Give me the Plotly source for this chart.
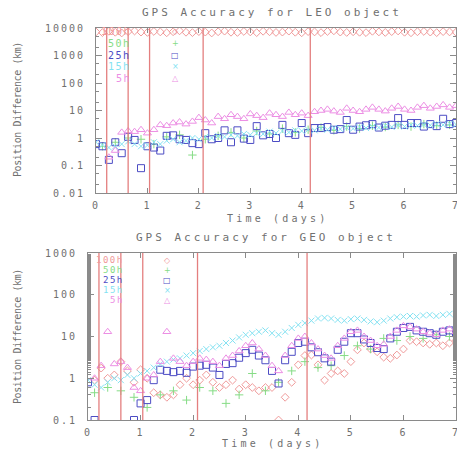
import plotly.graph_objects as go

# ---------------- data ----------------
days = [0.0, 0.125, 0.25, 0.375, 0.5, 0.625, 0.75, 0.875,
        1.0, 1.125, 1.25, 1.375, 1.5, 1.625, 1.75, 1.875,
        2.0, 2.125, 2.25, 2.375, 2.5, 2.625, 2.75, 2.875,
        3.0, 3.125, 3.25, 3.375, 3.5, 3.625, 3.75, 3.875,
        4.0, 4.125, 4.25, 4.375, 4.5, 4.625, 4.75, 4.875,
        5.0, 5.125, 5.25, 5.375, 5.5, 5.625, 5.75, 5.875,
        6.0, 6.125, 6.25, 6.375, 6.5, 6.625, 6.75, 6.875, 7.0]

series_names = ["100h", "50h", "25h", "15h", "5h"]
window_hours = [5, 15, 25, 50, 100]

# LEO object (km)
leo_100h = [7200, 6800, 7600, 7000, 6600, 7400, 7800, 7100, 6900, 7500, 7200, 6700,
            7300, 7900, 7000, 6800, 7400, 7100, 6600, 7300, 7700, 7000, 6900, 7500,
            7200, 6800, 7600, 7300, 6900, 7100, 7700, 7000, 6700, 7400, 7200, 6800,
            7500, 7900, 7100, 6900, 7300, 7000, 6800, 7600, 7200, 6900, 7400, 7800,
            7000, 6700, 7300, 7500, 7100, 6800, 7400, 7200, 7000]
leo_50h = [None, 0.5, None, 0.7, None, 1.0, None, 0.9, None, 0.6, None, 1.1,
           None, 1.3, None, 0.24, None, 0.9, None, 1.2, None, 1.6, None, 1.0,
           None, 1.8, None, 1.4, None, 2.2, None, 1.6, None, 2.0, None, 2.4,
           None, 1.9, None, 2.6, None, 2.2, None, 2.8, None, 2.5, None, 3.0,
           None, 2.6, None, 3.2, None, 2.8, None, 3.0, None]
leo_25h = [0.6, 0.5, 0.16, 0.7, 0.28, 1.1, 0.85, 0.08, 0.5, 0.45, 0.35, 1.2,
           1.25, 0.9, 0.85, 0.65, 0.6, 1.5, 0.9, 1.0, 1.9, 0.7, 1.9, 0.95,
           0.85, 2.7, 1.25, 1.4, 1.0, 3.0, 1.5, 1.3, 3.5, 1.5, 2.3, 2.3,
           2.5, 2.0, 2.1, 4.5, 2.0, 2.6, 2.9, 3.2, 2.4, 2.8, 3.0, 5.3,
           3.0, 3.5, 3.5, 2.6, 3.2, 2.7, 5.0, 3.2, 3.5]
leo_15h = [0.7, 0.55, 0.45, 0.5, 0.6, 0.75, 0.6, 0.5, 0.55, 0.7, 0.6, 0.8,
           0.9, 0.7, 0.8, 1.0, 0.9, 1.1, 1.0, 1.2, 1.1, 1.3, 1.2, 1.4,
           1.3, 1.5, 1.4, 1.7, 1.5, 1.8, 1.6, 1.9, 1.8, 2.0, 1.9, 2.2,
           2.0, 2.3, 2.1, 2.4, 2.2, 2.5, 2.3, 2.6, 2.4, 2.8, 2.5, 2.9,
           2.6, 3.0, 2.8, 3.1, 2.9, 3.2, 3.0, 3.3, 3.1]
leo_5h = [None, None, 0.2, 0.35, 1.6, 1.8, 1.7, 2.0, 1.5, 2.0, 3.0, 2.8,
          3.5, 3.8, 3.2, 4.0, 5.5, 4.5, 3.5, 6.0, 5.0, 7.0, 6.0, 5.0,
          7.5, 6.5, 5.5, 8.0, 7.0, 6.0, 8.5, 7.0, 8.0, 6.5, 9.0, 10.0,
          11.0, 9.5, 8.5, 12.0, 10.0, 9.0, 11.0, 13.0, 11.0, 9.5, 12.0, 14.0,
          11.0, 10.0, 13.0, 15.0, 12.0, 14.0, 16.0, 13.0, 15.0]

# GEO object (km)
geo_100h = [None, 0.9, 1.75, 1.0, 1.2, 2.5, 1.5, 0.8, 1.6, 1.0, 0.45, 0.4,
            0.35, 0.4, 0.7, 1.0, 0.7, 0.9, 1.2, 0.8, 0.6, 0.7, 0.9, 0.55,
            0.7, 0.6, 0.5, 0.6, 0.6, 0.1, 0.35, 0.8, 2.1, 3.5, 3.6, 2.1,
            0.9, 1.3, 1.5, 1.3, 2.5, 4.8, 7.0, 5.0, 4.3, 3.2, 3.0, 3.6,
            5.0, 8.0, 7.5, 7.0, 6.5, 7.0, 6.0, 7.0, 8.0]
geo_50h = [None, 0.45, None, 0.6, None, 0.5, None, 0.35, None, 0.2, None, 0.4,
           None, 0.5, None, 0.3, None, 0.6, None, 0.5, None, 0.25, None, 0.4,
           None, 1.3, None, 0.5, None, 0.8, None, 1.5, None, 2.5, None, 1.8,
           None, 2.0, None, 3.5, None, 6.0, None, 5.0, None, 9.0, None, 8.0,
           None, 10.0, None, 9.0, None, 11.0, None, 10.0, None]
geo_25h = [0.8, 0.1, 0.05, 0.05, 0.05, 0.05, 0.05, 0.1, 0.25, 0.3, 0.9, 1.6,
           1.5, 1.4, 1.5, 1.35, 1.9, 2.0, 2.1, 1.8, 1.2, 2.2, 2.3, 3.1,
           4.0, 4.8, 3.5, 2.7, 1.5, 0.75, 2.7, 4.3, 7.0, 7.5, 5.5, 4.2,
           3.0, 2.5, 4.8, 7.5, 12.0, 12.0, 8.5, 7.0, 5.3, 5.0, 9.0, 13.0,
           16.0, 17.0, 14.0, 13.0, 12.0, 11.0, 13.0, 14.0, 12.0]
geo_15h = [0.9, 0.7, 0.6, 0.8, 1.0, 0.9, 1.2, 1.0, 1.3, 1.5, 1.8, 2.2,
           2.5, 2.8, 3.0, 3.5, 4.0, 4.5, 5.0, 5.5, 6.0, 7.0, 8.0, 9.5,
           11.0, 12.0, 13.0, 14.0, 12.0, 11.0, 13.0, 16.0, 19.0, 21.0, 24.0, 27.0,
           28.0, 27.0, 25.0, 24.0, 26.0, 27.0, 25.0, 23.0, 22.0, 24.0, 27.0, 29.0,
           30.0, 31.0, 30.0, 32.0, 33.0, 31.0, 33.0, 35.0, 34.0]
geo_5h = [None, 1.0, 2.0, 13.0, 2.2, 2.5, 1.8, 0.6, 0.5, 1.0, 1.2, 2.5,
          13.0, 3.0, 2.5, 2.0, 2.5, 3.0, 2.8, 2.5, 2.0, 3.0, 3.5, 4.5,
          6.0, 7.0, 5.0, 3.5, 2.0, 1.5, 3.5, 6.0, 9.0, 10.0, 7.0, 5.0,
          3.5, 3.0, 6.0, 9.0, 13.0, 14.0, 10.0, 8.0, 6.0, 6.5, 10.0, 14.0,
          18.0, 17.0, 15.0, 13.0, 12.0, 11.0, 14.0, 15.0, 13.0]

x_ticks = [0, 1, 2, 3, 4, 5, 6, 7]
leo_yticks = [0.01, 0.1, 1, 10, 100, 1000, 10000]
leo_ylabels = ["0.01", "0.1", "1", "10", "100", "1000", "10000"]
geo_yticks = [0.1, 1, 10, 100, 1000]
geo_ylabels = ["0.1", "1", "10", "100", "1000"]

titles = ["GPS Accuracy for LEO object", "GPS Accuracy for GEO object"]
xtitle = "Time (days)"
ytitle = "Position Difference (km)"

# ---------------- style ----------------
colors = ["#f09a9a", "#86dc86", "#4c4cc4", "#84e2f2", "#ec8ee4"]
symbols = ["diamond-open", "cross-thin-open", "square-open", "x-thin-open", "triangle-up-open"]
sizes = [6, 6, 7, 6, 7]
glyphs = ["\u25c7", "+", "\u25a1", "\u00d7", "\u25b3"]
FONT = "DejaVu Sans Mono"
GRAY = "#707070"
AX = "#8a8a8a"
W, H = 457, 451


def sp(txt, ls=2.0):
    return '<span style="letter-spacing:%.1fpx">%s</span>' % (ls, txt)


fig = go.Figure()

panels = [
    dict(xa="x", ya="y", data=[leo_100h, leo_50h, leo_25h, leo_15h, leo_5h],
         xdom=[96 / W, 456 / W], ydom=[1 - 193 / H, 1 - 28 / H],
         yr=[-2, 4], yt=leo_yticks, yl=leo_ylabels),
    dict(xa="x2", ya="y2", data=[geo_100h, geo_50h, geo_25h, geo_15h, geo_5h],
         xdom=[88 / W, 456 / W], ydom=[1 - 420 / H, 1 - 253 / H],
         yr=[-1, 3], yt=geo_yticks, yl=geo_ylabels),
]

for p in panels:
    for i, vals in enumerate(p["data"]):
        fig.add_trace(go.Scatter(
            x=days, y=vals, mode="markers", xaxis=p["xa"], yaxis=p["ya"],
            name=series_names[i], showlegend=False, cliponaxis=True,
            marker=dict(symbol=symbols[i], size=sizes[i], color=colors[i],
                        line=dict(width=1, color=colors[i]))))
    for h in window_hours:
        fig.add_shape(type="line", xref=p["xa"], yref=p["ya"] + " domain",
                      x0=h / 24, x1=h / 24, y0=0, y1=1,
                      line=dict(color="#e47f7f", width=1.3), layer="above")

axis_common = dict(showline=True, linecolor=AX, linewidth=1, mirror="ticks",
                   ticks="inside", tickcolor=AX, showgrid=False, zeroline=False,
                   automargin=False, ticklabeloverflow="allow",
                   tickfont=dict(family=FONT, size=10, color=GRAY))

layout = dict(template="none", width=W, height=H, margin=dict(l=0, r=0, t=0, b=0, pad=0),
              paper_bgcolor="white", plot_bgcolor="white", showlegend=False)

for k, p in enumerate(panels):
    sx = "" if k == 0 else "2"
    layout["xaxis" + sx] = dict(axis_common, domain=p["xdom"], range=[0, 7],
                                anchor="y" + sx, tickvals=x_ticks,
                                ticktext=[sp(str(v)) for v in x_ticks],
                                ticklen=5, ticklabelstandoff=3)
    layout["yaxis" + sx] = dict(axis_common, domain=p["ydom"], type="log",
                                range=p["yr"], anchor="x" + sx, tickvals=p["yt"],
                                ticktext=[sp(v) for v in p["yl"]], ticklen=6,
                                ticklabelstandoff=8,
                                minor=dict(ticks="inside", ticklen=3, tickcolor=AX,
                                           showgrid=False))

fig.update_layout(**layout)

ann = []
title_pos = [(272, 12), (266, 237)]
xtitle_pos = [(277, 218), (272, 443)]
ytitle_pos = [(17, 110), (17, 337)]
legend_lab_x = [133, 126]
legend_sym_x = [175, 167]
legend_y0 = [32, 260]
legend_dy = [11.5, 10]
legend_fs = [10, 9]
for k in range(2):
    ann.append(dict(text=sp(titles[k], 3.0), x=title_pos[k][0] / W, y=1 - title_pos[k][1] / H,
                    xref="paper", yref="paper", showarrow=False, xanchor="center", yanchor="middle",
                    font=dict(family=FONT, size=11, color=GRAY)))
    ann.append(dict(text=sp(xtitle, 3.2), x=xtitle_pos[k][0] / W, y=1 - xtitle_pos[k][1] / H,
                    xref="paper", yref="paper", showarrow=False, xanchor="center", yanchor="middle",
                    font=dict(family=FONT, size=10, color=GRAY)))
    ann.append(dict(text=sp(ytitle, -0.4), x=ytitle_pos[k][0] / W, y=1 - ytitle_pos[k][1] / H,
                    xref="paper", yref="paper", showarrow=False, xanchor="center", yanchor="middle",
                    textangle=-90, font=dict(family=FONT, size=10, color=GRAY)))
    for i, nm in enumerate(series_names):
        yy = 1 - (legend_y0[k] + i * legend_dy[k]) / H
        ann.append(dict(text=sp(nm, 1.5), x=legend_lab_x[k] / W, y=yy, xref="paper", yref="paper",
                        showarrow=False, xanchor="right", yanchor="middle",
                        font=dict(family=FONT, size=legend_fs[k], color=colors[i])))
        ann.append(dict(text=glyphs[i], x=legend_sym_x[k] / W, y=yy, xref="paper", yref="paper",
                        showarrow=False, xanchor="center", yanchor="middle",
                        font=dict(family="DejaVu Sans", size=8, color=colors[i])))

fig.update_layout(annotations=ann)
fig.write_html("out.html", config={"displayModeBar": False},
               post_script="document.body.style.margin='0';document.body.style.overflow='hidden';")
